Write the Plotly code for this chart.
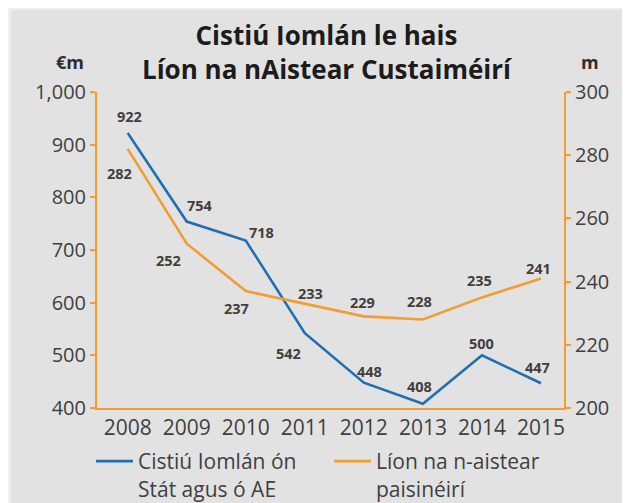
import plotly.graph_objects as go

years = ["2008", "2009", "2010", "2011", "2012", "2013", "2014", "2015"]
funding = [922, 754, 718, 542, 448, 408, 500, 447]          # €m, left axis
journeys = [282, 252, 237, 233, 229, 228, 235, 241]         # m, right axis
left_ticks = [400, 500, 600, 700, 800, 900, 1000]
right_ticks = [200, 220, 240, 260, 280, 300]

name_funding = "Cistiú Iomlán ón<br>Stát agus ó AE"
name_journeys = "Líon na n-aistear<br>paisinéirí"
title_1 = "Cistiú Iomlán le hais"
title_2 = "Líon na nAistear Custaiméirí"

# label offsets (px): (xshift, yshift)
off_funding = [(2, 17), (13, 16), (16, 8), (-16, -20), (6, 11), (-3, 17), (0, 12), (-3, 16)]
off_journeys = [(-8, -25), (-18, -17), (-9, -17), (6, 10), (-1, 14), (-3, 18), (-2, 17), (-2, 10)]

BLUE = "#1f6fb2"
ORANGE = "#f39c34"
TXT = "#3f3f3f"
FONT = "Open Sans"

W, H = 630, 560
OFF = 8  # page body margin
L, R, T, B = 97 - OFF, 564 - OFF, 92 - OFF, 408 - OFF

def px(x):
    return (x - OFF - L) / (R - L)

def py(y):
    return (B - (y - OFF)) / (B - T)

xs = list(range(len(years)))

fig = go.Figure()
fig.add_trace(go.Scatter(x=xs, y=funding, mode="lines", name=name_funding,
                         line=dict(color=BLUE, width=2.6), yaxis="y"))
fig.add_trace(go.Scatter(x=xs, y=journeys, mode="lines", name=name_journeys,
                         line=dict(color=ORANGE, width=2.6), yaxis="y2"))

ann = []
for i, v in enumerate(funding):
    ann.append(dict(x=xs[i], y=v, xref="x", yref="y", text=f"<b>{v}</b>", showarrow=False,
                    xshift=off_funding[i][0], yshift=off_funding[i][1],
                    font=dict(family=FONT, size=14.5, color=TXT)))
for i, v in enumerate(journeys):
    ann.append(dict(x=xs[i], y=v, xref="x", yref="y2", text=f"<b>{v}</b>", showarrow=False,
                    xshift=off_journeys[i][0], yshift=off_journeys[i][1],
                    font=dict(family=FONT, size=14.5, color=TXT)))
ann.append(dict(x=px(327), y=py(52), xref="paper", yref="paper",
                text=f"<b>{title_1}</b><br><b>{title_2}</b>",
                showarrow=False, xanchor="center", yanchor="middle", align="center",
                font=dict(family=FONT, size=26, color="#1c1c1c")))
ann.append(dict(x=px(70), y=py(62), xref="paper", yref="paper", text="<b>€m</b>",
                showarrow=False, xanchor="center", yanchor="middle",
                font=dict(family=FONT, size=18, color="#2e2e2e")))
ann.append(dict(x=px(590), y=py(62), xref="paper", yref="paper", text="<b>m</b>",
                showarrow=False, xanchor="center", yanchor="middle",
                font=dict(family=FONT, size=18, color="#2e2e2e")))

shapes = [dict(type="rect", xref="paper", yref="paper", x0=px(11), x1=px(660), y0=py(600), y1=py(10),
               fillcolor="#e2e2e2", line=dict(width=0), layer="below")]

fig.update_layout(
    width=W, height=H,
    margin=dict(l=L, r=W - R, t=T, b=H - B),
    paper_bgcolor="#f0eeec",
    plot_bgcolor="#e2e2e2",
    font=dict(family=FONT, size=20, color=TXT),
    showlegend=True,
    legend=dict(orientation="h", x=px(91), y=py(441), xanchor="left", yanchor="top",
                valign="top", entrywidth=186, entrywidthmode="pixels", itemwidth=37,
                font=dict(family=FONT, size=21, color=TXT), bgcolor="rgba(0,0,0,0)",
                tracegroupgap=0),
    xaxis=dict(range=[-0.52, 7.39], tickvals=xs, ticktext=years, showgrid=False, zeroline=False,
               showline=True, linecolor=ORANGE, linewidth=2, ticks="",
               tickfont=dict(family=FONT, size=21, color=TXT)),
    yaxis=dict(range=[400, 1000], tickvals=left_ticks, tickformat=",", showgrid=False, zeroline=False,
               showline=True, linecolor=ORANGE, linewidth=2, ticks="outside", ticklen=5,
               tickcolor=ORANGE, tickwidth=2,
               tickfont=dict(family=FONT, size=20, color=TXT)),
    yaxis2=dict(range=[200, 300], tickvals=right_ticks, overlaying="y", side="right",
                showgrid=False, zeroline=False, showline=True, linecolor=ORANGE, linewidth=2,
                ticks="outside", ticklen=5, tickcolor=ORANGE, tickwidth=2,
                tickfont=dict(family=FONT, size=20, color=TXT)),
    annotations=ann,
    shapes=shapes,
)

fig.write_html("out.html")
